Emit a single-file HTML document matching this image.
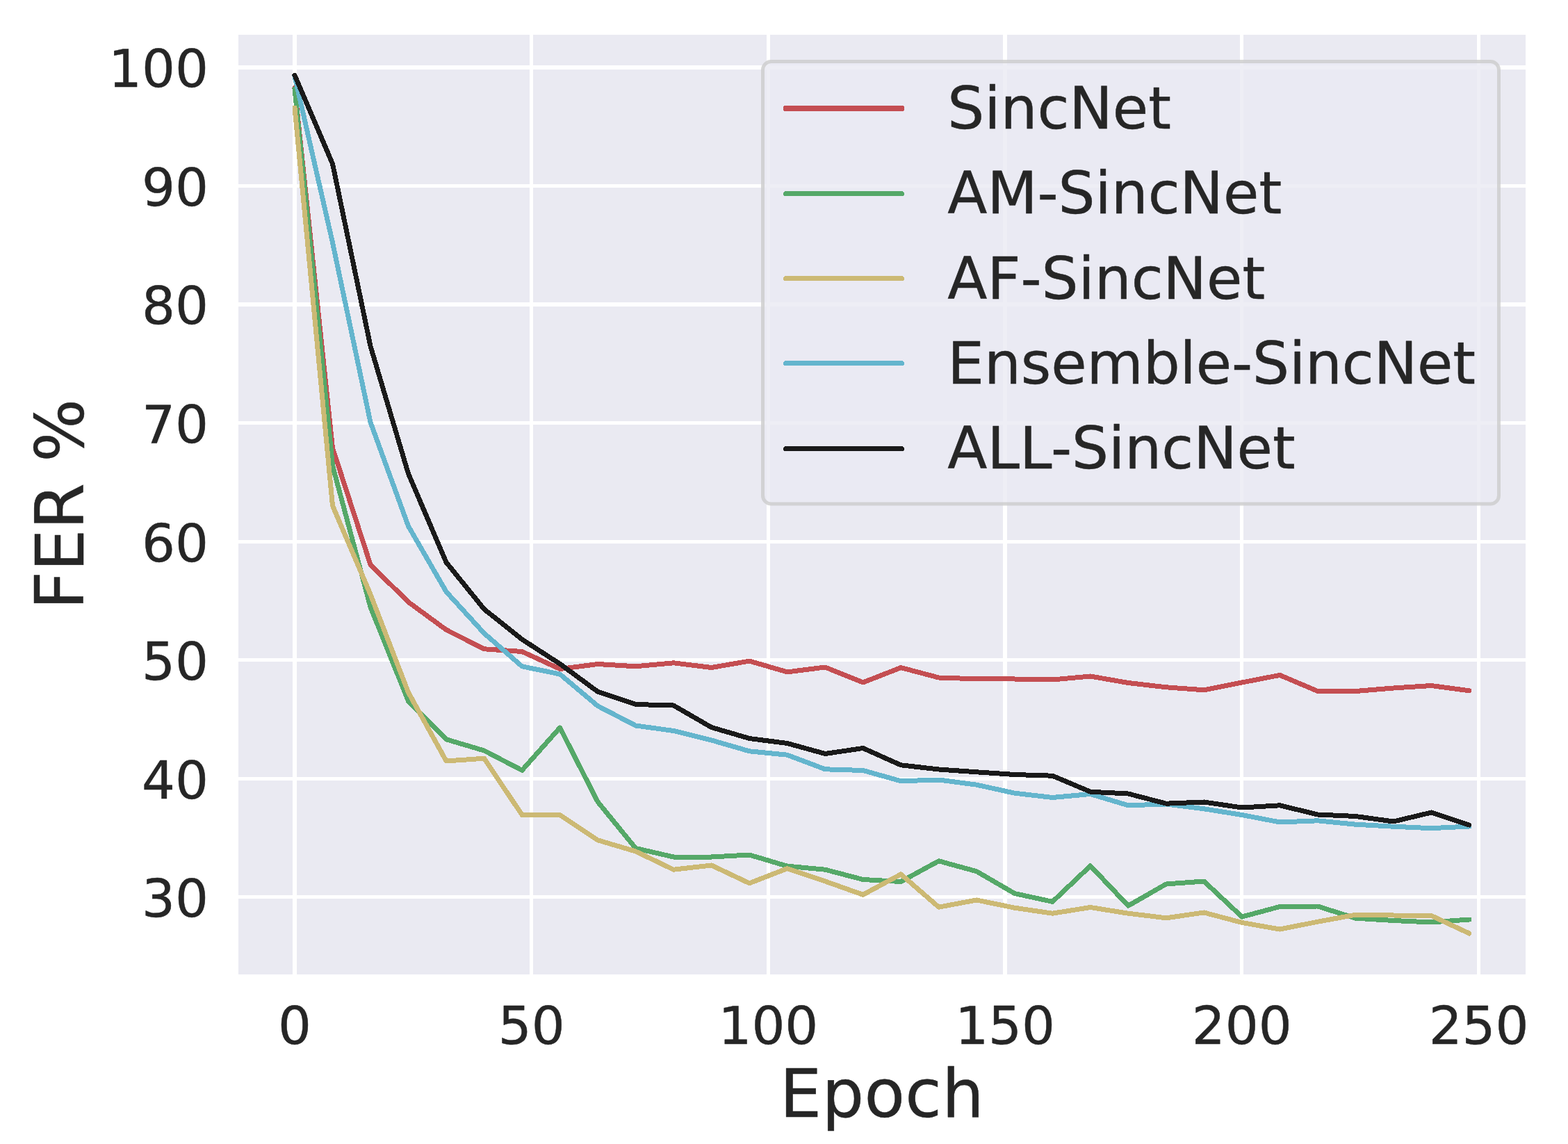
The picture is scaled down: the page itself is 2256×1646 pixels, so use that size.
<!DOCTYPE html>
<html lang="en">
<head>
<meta charset="utf-8">
<title>FER % vs Epoch</title>
<style>
html,body{margin:0;padding:0;background:#ffffff;}
body{width:2256px;height:1646px;overflow:hidden;}
svg{display:block;}
text{font-family:"DejaVu Sans","Liberation Sans",sans-serif;fill:#262626;stroke:#262626;stroke-width:0.5px;stroke-linejoin:round;}
.tick{font-size:75.4px;}
.lab{font-size:95.6px;}
.leg{font-size:83.5px;}
.ln{fill:none;stroke-width:7.00;stroke-linecap:round;stroke-linejoin:round;shape-rendering:crispEdges;}
</style>
</head>
<body>
<svg width="2256" height="1646" viewBox="0 0 2256 1646">
<rect x="0" y="0" width="2256" height="1646" fill="#ffffff"/>
<rect x="343" y="50" width="1852" height="1352" fill="#eaeaf2"/>
<g fill="#ffffff" shape-rendering="crispEdges">
<rect x="421" y="50" width="6" height="1352"/>
<rect x="762" y="50" width="5" height="1352"/>
<rect x="1103" y="50" width="5" height="1352"/>
<rect x="1443" y="50" width="6" height="1352"/>
<rect x="1784" y="50" width="5" height="1352"/>
<rect x="2125" y="50" width="5" height="1352"/>
<rect x="343" y="94" width="1852" height="6"/>
<rect x="343" y="265" width="1852" height="5"/>
<rect x="343" y="435" width="1852" height="6"/>
<rect x="343" y="606" width="1852" height="5"/>
<rect x="343" y="777" width="1852" height="5"/>
<rect x="343" y="947" width="1852" height="5"/>
<rect x="343" y="1118" width="1852" height="5"/>
<rect x="343" y="1288" width="1852" height="5"/>
</g>
<polyline class="ln" stroke="#c44e52" points="424.0,126.3 478.5,644.5 533.0,812.4 587.5,866.2 642.1,906.2 696.6,933.8 751.1,937.5 805.6,962.5 860.1,955.5 914.6,958.8 969.1,953.8 1023.6,960.5 1078.2,951.1 1132.7,966.9 1187.2,960.0 1241.7,981.9 1296.2,960.6 1350.7,975.0 1405.2,976.8 1459.8,977.0 1514.3,978.0 1568.8,973.0 1623.3,982.5 1677.8,988.8 1732.3,992.8 1786.8,982.0 1841.4,971.4 1895.9,994.5 1950.4,994.5 2004.9,990.0 2059.4,986.5 2113.9,993.8"/>
<polyline class="ln" stroke="#55a868" points="424.0,127.9 478.5,670.0 533.0,873.5 587.5,1008.8 642.1,1063.8 696.6,1080.0 751.1,1108.3 805.6,1047.0 860.1,1153.8 914.6,1220.5 969.1,1233.0 1023.6,1233.0 1078.2,1230.0 1132.7,1246.2 1187.2,1251.2 1241.7,1265.5 1296.2,1268.5 1350.7,1238.8 1405.2,1253.8 1459.8,1285.5 1514.3,1297.4 1568.8,1245.8 1623.3,1303.2 1677.8,1272.0 1732.3,1268.0 1786.8,1319.1 1841.4,1304.5 1895.9,1304.0 1950.4,1321.2 2004.9,1324.5 2059.4,1327.0 2113.9,1323.0"/>
<polyline class="ln" stroke="#ccb974" points="424.0,155.0 478.5,727.6 533.0,855.2 587.5,996.2 642.1,1095.0 696.6,1091.2 751.1,1172.5 805.6,1172.5 860.1,1208.8 914.6,1225.0 969.1,1251.2 1023.6,1245.0 1078.2,1270.8 1132.7,1249.6 1187.2,1268.0 1241.7,1287.3 1296.2,1257.9 1350.7,1305.2 1405.2,1295.0 1459.8,1306.2 1514.3,1314.2 1568.8,1305.5 1623.3,1314.2 1677.8,1320.8 1732.3,1313.0 1786.8,1327.4 1841.4,1337.1 1895.9,1326.2 1950.4,1316.2 2004.9,1317.0 2059.4,1317.5 2113.9,1343.0"/>
<polyline class="ln" stroke="#64b5cd" points="424.0,109.8 478.5,349.0 533.0,607.6 587.5,757.0 642.1,851.5 696.6,911.2 751.1,958.8 805.6,970.0 860.1,1015.8 914.6,1044.0 969.1,1051.5 1023.6,1065.0 1078.2,1080.8 1132.7,1086.2 1187.2,1106.8 1241.7,1108.5 1296.2,1123.8 1350.7,1122.0 1405.2,1129.2 1459.8,1141.2 1514.3,1147.5 1568.8,1142.5 1623.3,1158.8 1677.8,1157.0 1732.3,1163.8 1786.8,1172.5 1841.4,1183.0 1895.9,1180.8 1950.4,1186.2 2004.9,1189.2 2059.4,1191.7 2113.9,1189.0"/>
<polyline class="ln" stroke="#1a1a1a" points="424.0,108.2 478.5,235.7 533.0,498.0 587.5,681.5 642.1,809.2 696.6,876.5 751.1,920.0 805.6,955.2 860.1,995.2 914.6,1013.5 969.1,1015.0 1023.6,1046.5 1078.2,1062.5 1132.7,1069.5 1187.2,1084.5 1241.7,1076.5 1296.2,1100.8 1350.7,1107.0 1405.2,1110.8 1459.8,1114.5 1514.3,1116.2 1568.8,1139.2 1623.3,1142.0 1677.8,1156.2 1732.3,1154.0 1786.8,1162.0 1841.4,1158.8 1895.9,1172.0 1950.4,1174.5 2004.9,1182.0 2059.4,1169.0 2113.9,1187.0"/>
<g class="tick" text-anchor="middle">
<text x="424.0" y="1502.3">0</text>
<text x="764.7" y="1502.3">50</text>
<text x="1105.4" y="1502.3">100</text>
<text x="1446.1" y="1502.3">150</text>
<text x="1786.8" y="1502.3">200</text>
<text x="2127.6" y="1502.3">250</text>
</g>
<g class="tick" text-anchor="end">
<text x="300" y="125.2">100</text>
<text x="300" y="295.7">90</text>
<text x="300" y="466.2">80</text>
<text x="300" y="636.7">70</text>
<text x="300" y="807.7">60</text>
<text x="300" y="977.7">50</text>
<text x="300" y="1148.7">40</text>
<text x="300" y="1318.7">30</text>
</g>
<text class="lab" style="letter-spacing:0.35px" x="1121.7" y="1606.5">Epoch</text>
<text class="lab" text-anchor="middle" transform="translate(119.9 725.4) rotate(-90)">FER %</text>
<rect x="1097.5" y="88.5" width="1059.0" height="636.5" rx="12" ry="12" fill="#eaeaf2" fill-opacity="0.8" stroke="#cccccc" stroke-opacity="0.8" stroke-width="5"/>
<line class="ln" style="stroke-width:8" stroke="#c44e52" x1="1130.5" y1="156.0" x2="1297.5" y2="156.0"/>
<text class="leg" x="1363.3" y="185.1">SincNet</text>
<line class="ln" style="stroke-width:7" stroke="#55a868" x1="1130.5" y1="278.5" x2="1297.5" y2="278.5"/>
<text class="leg" x="1363.3" y="307.3">AM-SincNet</text>
<line class="ln" style="stroke-width:7" stroke="#ccb974" x1="1130.5" y1="400.5" x2="1297.5" y2="400.5"/>
<text class="leg" x="1363.3" y="429.5">AF-SincNet</text>
<line class="ln" style="stroke-width:7" stroke="#64b5cd" x1="1130.5" y1="522.5" x2="1297.5" y2="522.5"/>
<text class="leg" style="letter-spacing:-0.1px" x="1363.3" y="551.7">Ensemble-SincNet</text>
<line class="ln" style="stroke-width:7" stroke="#1a1a1a" x1="1130.5" y1="645.5" x2="1297.5" y2="645.5"/>
<text class="leg" x="1363.3" y="674.0">ALL-SincNet</text>
</svg>
</body>
</html>
